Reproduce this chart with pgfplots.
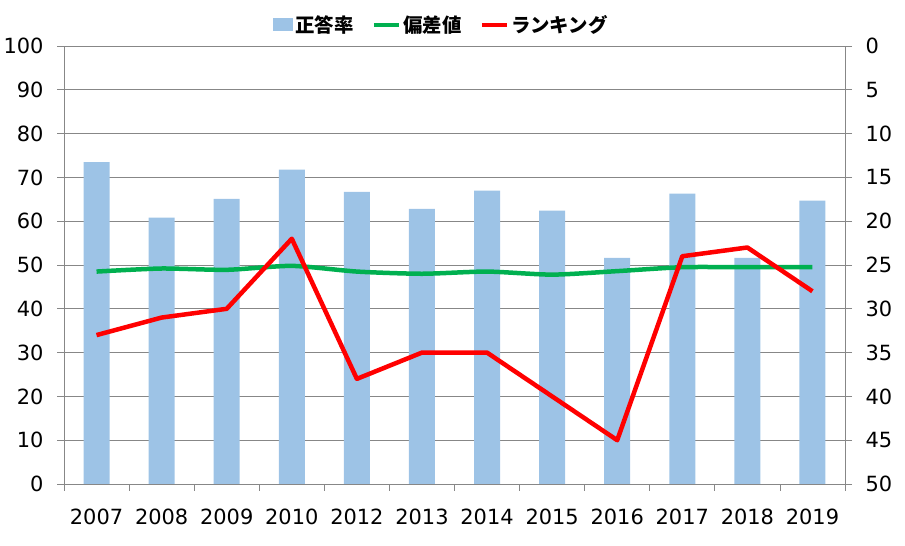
\documentclass[border=0pt]{standalone}
\usepackage{pgfplots}
\pgfplotsset{compat=1.18}
\usepackage{fontspec}
\setmainfont{DejaVu Sans}
\newfontfamily\jp{Noto Sans CJK JP}
\usetikzlibrary{calc}
\definecolor{barblue}{HTML}{9DC3E6}
\definecolor{lgreen}{HTML}{00B050}
\definecolor{axgray}{HTML}{878787}
\begin{document}
\begin{tikzpicture}
\pgfplotsset{
  every axis/.append style={
    scale only axis, width=781bp, height=438bp,
    xmin=-0.5, xmax=11.5,
    tick label style={font=\fontsize{21}{24}\selectfont},
    /pgf/number format/assume math mode=true,
    axis line style={axgray, line width=0.8bp},
    tick style={axgray, line width=0.8bp},
    tick align=outside,
    major tick length=7bp,
    minor tick length=7bp,
  }
}
\begin{axis}[
  name=ax,
  ymin=0, ymax=100,
  ytick={0,10,...,100},
  axis x line*=bottom,
  axis y line*=left,
  ymajorgrids,
  grid style={axgray, line width=0.8bp},
  xtick={0,...,11},
  xticklabels={2007,2008,2009,2010,2012,2013,2014,2015,2016,2017,2018,2019},
  major x tick style={draw=none},
  minor xtick={-0.5,0.5,...,11.5},
  xticklabel style={yshift=-14bp},
  yticklabel style={xshift=-10bp},
  legend columns=3,
  legend style={
    draw=none, fill=none,
    at={(0.5,1)}, anchor=center, yshift=21bp, xshift=-13bp,
    font=\jp\bfseries\fontsize{19.5}{21}\selectfont,
    /tikz/every even column/.append style={column sep=16bp},
    nodes={inner sep=2bp},
  },
]
\addplot[ybar, bar width=0.4, fill=barblue, draw=none,
  legend image code/.code={\fill[barblue] (0bp,-6.5bp) rectangle (20bp,6.5bp);}]
  coordinates {(0,73.5) (1,60.8) (2,65.1) (3,71.8) (4,66.7) (5,62.8) (6,67.0) (7,62.4) (8,51.6) (9,66.3) (10,51.6) (11,64.7)};
\addlegendentry{正答率}
\addplot[lgreen, line width=4.5bp, smooth, tension=0.4, no markers,
  legend image code/.code={\draw[lgreen, line width=4.5bp] (0bp,0bp) -- (25bp,0bp);}]
  coordinates {(0,48.5) (1,49.2) (2,48.9) (3,49.8) (4,48.5) (5,48.0) (6,48.5) (7,47.8) (8,48.6) (9,49.5) (10,49.5) (11,49.5)};
\addlegendentry{偏差値}
\addlegendimage{legend image code/.code={\draw[red, line width=4.5bp] (0bp,0bp) -- (25bp,0bp);}}
\addlegendentry{ランキング}
\end{axis}
\begin{axis}[
  ymin=0, ymax=50, y dir=reverse,
  ytick={0,5,...,50},
  axis y line*=right,
  axis x line=none,
  yticklabel style={xshift=10bp, anchor=west},
]
\addplot[red, line width=4.5bp, no markers, line join=round]
  coordinates {(0,33) (1,31) (2,30) (3,22) (4,38) (5,35) (6,35) (7,40) (8,45) (9,24) (10,23) (11,28)};
\end{axis}
\pgfresetboundingbox
\path ($(ax.south west)+(-64bp,-62bp)$) rectangle ($(ax.north east)+(60bp,46bp)$);
\end{tikzpicture}
\end{document}
